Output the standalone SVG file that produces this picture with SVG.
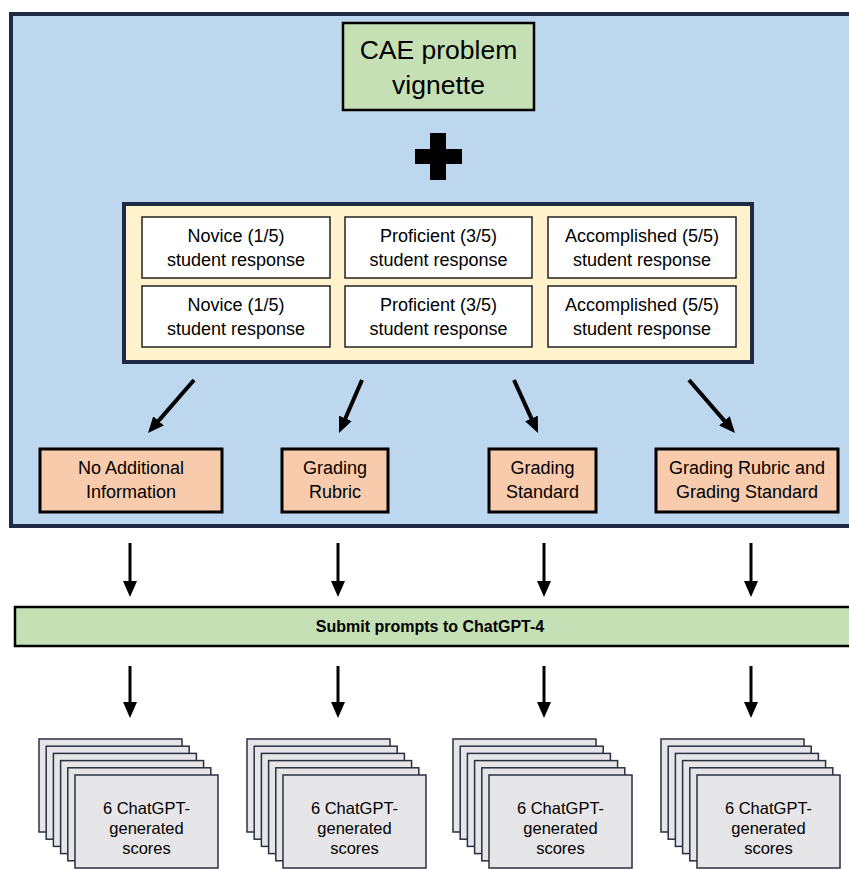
<svg xmlns="http://www.w3.org/2000/svg" width="849" height="870" viewBox="0 0 849 870">
<style>
text{font-family:"Liberation Sans",Arial,sans-serif;fill:#000;text-anchor:middle}
.cell{fill:#fff;stroke:#222;stroke-width:1.5}
.ct{font-size:18px}
.opt{fill:#f8cbad;stroke:#000;stroke-width:3}
.ot{font-size:18px}
.card{fill:#e6e6e8;stroke:#2b2f3f;stroke-width:1.5}
.st{font-size:16.5px}
.arr{stroke:#000;fill:none;marker-end:url(#ah)}
</style>
<defs>
<marker id="ah" viewBox="0 0 16 14" markerWidth="16" markerHeight="14" refX="4" refY="7" orient="auto" markerUnits="userSpaceOnUse">
<path d="M0,0 L16,7 L0,14 z" fill="#000"/>
</marker>
<g id="stackcards">
<rect class="card" x="0" y="0" width="143" height="93"/>
<rect class="card" x="7.2" y="7.2" width="143" height="93"/>
<rect class="card" x="14.4" y="14.4" width="143" height="93"/>
<rect class="card" x="21.6" y="21.6" width="143" height="93"/>
<rect class="card" x="28.8" y="28.8" width="143" height="93"/>
<rect class="card" x="36" y="36" width="143" height="93"/>
</g>
</defs>
<rect width="849" height="870" fill="#fff"/>
<g id="container">
<rect x="11" y="14" width="860" height="512" fill="#bdd7ee" stroke="#1f2a44" stroke-width="4"/>
</g>
<g id="cae">
<rect x="343" y="23" width="191" height="87" fill="#c5e0b4" stroke="#000" stroke-width="2.5"/>
<text x="438.5" y="59" font-size="26.5">CAE problem</text>
<text x="438.5" y="94" font-size="26.5">vignette</text>
</g>
<g id="plus">
<rect x="430" y="133" width="16" height="47" fill="#000"/>
<rect x="415" y="149" width="47" height="15" fill="#000"/>
</g>
<g id="responses">
<rect x="124" y="204" width="628" height="158" fill="#fff2cc" stroke="#1f2a44" stroke-width="4"/>
<g id="r1c1"><rect class="cell" x="142" y="217" width="188" height="61"/><text class="ct" x="236" y="242">Novice (1/5)</text><text class="ct" x="236" y="266">student response</text></g>
<g id="r1c2"><rect class="cell" x="345" y="217" width="187" height="61"/><text class="ct" x="438.5" y="242">Proficient (3/5)</text><text class="ct" x="438.5" y="266">student response</text></g>
<g id="r1c3"><rect class="cell" x="548" y="217" width="188" height="61"/><text class="ct" x="642" y="242">Accomplished (5/5)</text><text class="ct" x="642" y="266">student response</text></g>
<g id="r2c1"><rect class="cell" x="142" y="286" width="188" height="61"/><text class="ct" x="236" y="311">Novice (1/5)</text><text class="ct" x="236" y="335">student response</text></g>
<g id="r2c2"><rect class="cell" x="345" y="286" width="187" height="61"/><text class="ct" x="438.5" y="311">Proficient (3/5)</text><text class="ct" x="438.5" y="335">student response</text></g>
<g id="r2c3"><rect class="cell" x="548" y="286" width="188" height="61"/><text class="ct" x="642" y="311">Accomplished (5/5)</text><text class="ct" x="642" y="335">student response</text></g>
</g>
<g id="opt1"><rect class="opt" x="40" y="449" width="182" height="63"/><text class="ot" x="131" y="474">No Additional</text><text class="ot" x="131" y="498">Information</text></g>
<g id="opt2"><rect class="opt" x="282" y="449" width="106" height="63"/><text class="ot" x="335" y="474">Grading</text><text class="ot" x="335" y="498">Rubric</text></g>
<g id="opt3"><rect class="opt" x="489" y="449" width="107" height="63"/><text class="ot" x="542.5" y="474">Grading</text><text class="ot" x="542.5" y="498">Standard</text></g>
<g id="opt4"><rect class="opt" x="656" y="449" width="182" height="63"/><text class="ot" x="747" y="474">Grading Rubric and</text><text class="ot" x="747" y="498">Grading Standard</text></g>
<g id="submit">
<rect x="15" y="607" width="850" height="39" fill="#c5e0b4" stroke="#000" stroke-width="2.5"/>
<text x="430" y="632" font-size="16" font-weight="bold">Submit prompts to ChatGPT-4</text>
</g>
<g id="scores1"><use href="#stackcards" x="39" y="739"/><text class="st" x="146.5" y="814">6 ChatGPT-</text><text class="st" x="146.5" y="834">generated</text><text class="st" x="146.5" y="854">scores</text></g>
<g id="scores2"><use href="#stackcards" x="247" y="739"/><text class="st" x="354.5" y="814">6 ChatGPT-</text><text class="st" x="354.5" y="834">generated</text><text class="st" x="354.5" y="854">scores</text></g>
<g id="scores3"><use href="#stackcards" x="453" y="739"/><text class="st" x="560.5" y="814">6 ChatGPT-</text><text class="st" x="560.5" y="834">generated</text><text class="st" x="560.5" y="854">scores</text></g>
<g id="scores4"><use href="#stackcards" x="661" y="739"/><text class="st" x="768.5" y="814">6 ChatGPT-</text><text class="st" x="768.5" y="834">generated</text><text class="st" x="768.5" y="854">scores</text></g>
<g id="connectors">
<line class="arr" stroke-width="4" x1="194" y1="380" x2="155.9" y2="423.9"/>
<line class="arr" stroke-width="4" x1="362" y1="380" x2="343.8" y2="422"/>
<line class="arr" stroke-width="4" x1="514" y1="380" x2="533.1" y2="422.1"/>
<line class="arr" stroke-width="4" x1="689" y1="380" x2="727.1" y2="423.9"/>
<line class="arr" stroke-width="3" x1="130" y1="543" x2="130" y2="585"/>
<line class="arr" stroke-width="3" x1="338" y1="543" x2="338" y2="585"/>
<line class="arr" stroke-width="3" x1="544" y1="543" x2="544" y2="585"/>
<line class="arr" stroke-width="3" x1="751" y1="543" x2="751" y2="585"/>
<line class="arr" stroke-width="3" x1="130" y1="666" x2="130" y2="706"/>
<line class="arr" stroke-width="3" x1="338" y1="666" x2="338" y2="706"/>
<line class="arr" stroke-width="3" x1="544" y1="666" x2="544" y2="706"/>
<line class="arr" stroke-width="3" x1="751" y1="666" x2="751" y2="706"/>
</g>
</svg>
